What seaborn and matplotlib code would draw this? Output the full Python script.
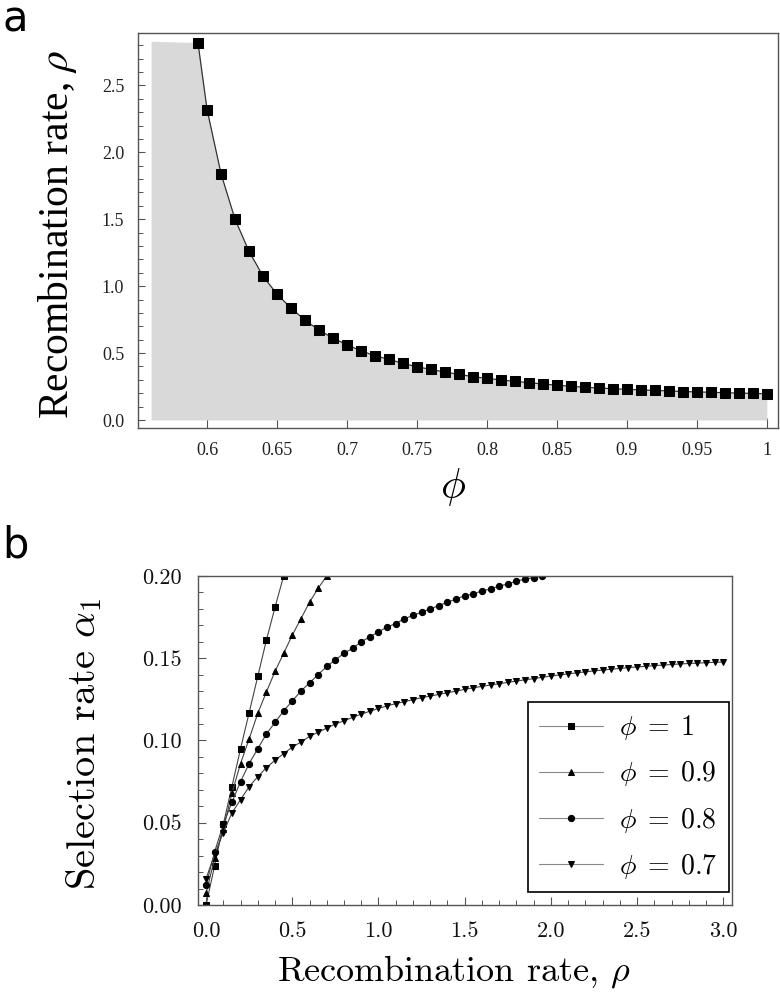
import matplotlib
matplotlib.use('Agg')
import matplotlib.pyplot as plt
import pandas as pd
import seaborn as sns
from matplotlib.ticker import MultipleLocator

# ---- panel a data: threshold recombination rate vs phi ----
phi_a = [0.5935, 0.60, 0.61, 0.62, 0.63, 0.64, 0.65, 0.66, 0.67, 0.68, 0.69,
         0.70, 0.71, 0.72, 0.73, 0.74, 0.75, 0.76, 0.77, 0.78, 0.79,
         0.80, 0.81, 0.82, 0.83, 0.84, 0.85, 0.86, 0.87, 0.88, 0.89,
         0.90, 0.91, 0.92, 0.93, 0.94, 0.95, 0.96, 0.97, 0.98, 0.99, 1.00]
rho_a = [2.82, 2.32, 1.84, 1.50, 1.26, 1.075, 0.94, 0.836, 0.746, 0.672, 0.612,
         0.562, 0.517, 0.480, 0.453, 0.423, 0.398, 0.378, 0.358, 0.341, 0.324,
         0.311, 0.299, 0.289, 0.279, 0.269, 0.260, 0.252, 0.245, 0.239, 0.234,
         0.229, 0.225, 0.221, 0.217, 0.213, 0.210, 0.207, 0.204, 0.201, 0.199, 0.196]
shade_left = 0.56
shade_top = 2.83

# ---- panel b data: selection rate vs recombination rate ----
rho_grid = [0.00, 0.05, 0.10, 0.15, 0.20, 0.25, 0.30, 0.35, 0.40, 0.45,
            0.50, 0.55, 0.60, 0.65, 0.70, 0.75, 0.80, 0.85, 0.90, 0.95,
            1.00, 1.05, 1.10, 1.15, 1.20, 1.25, 1.30, 1.35, 1.40, 1.45,
            1.50, 1.55, 1.60, 1.65, 1.70, 1.75, 1.80, 1.85, 1.90, 1.95,
            2.00, 2.05, 2.10, 2.15, 2.20, 2.25, 2.30, 2.35, 2.40, 2.45,
            2.50, 2.55, 2.60, 2.65, 2.70, 2.75, 2.80, 2.85, 2.90, 2.95, 3.00]
alpha_phi1 = [0.000, 0.024, 0.049, 0.072, 0.095, 0.117, 0.139, 0.161, 0.181, 0.200]
alpha_phi09 = [0.007, 0.0285, 0.046, 0.068, 0.086, 0.101, 0.1165, 0.1295, 0.142,
               0.153, 0.164, 0.174, 0.184, 0.1925, 0.200]
alpha_phi08 = [0.012, 0.0325, 0.049, 0.0624, 0.075, 0.086, 0.095, 0.104, 0.111, 0.118,
               0.124, 0.130, 0.135, 0.140, 0.145, 0.149, 0.153, 0.156, 0.160, 0.163,
               0.166, 0.169, 0.171, 0.174, 0.176, 0.178, 0.180, 0.182, 0.184, 0.186,
               0.188, 0.189, 0.191, 0.192, 0.194, 0.195, 0.197, 0.198, 0.199, 0.200]
alpha_phi07 = [0.016, 0.031, 0.044, 0.056, 0.064, 0.072, 0.078, 0.0835, 0.088, 0.092,
               0.096, 0.099, 0.1025, 0.105, 0.1075, 0.110, 0.112, 0.114, 0.116, 0.1178,
               0.1195, 0.121, 0.1224, 0.1236, 0.1248, 0.126, 0.127, 0.128, 0.129, 0.130,
               0.1311, 0.1320, 0.1329, 0.1337, 0.1345, 0.1353, 0.1361, 0.1369, 0.1376, 0.1384,
               0.1392, 0.1398, 0.1405, 0.1411, 0.1417, 0.1423, 0.1428, 0.1433, 0.1438, 0.1443,
               0.1447, 0.1451, 0.1455, 0.1458, 0.1462, 0.1465, 0.1468, 0.1470, 0.1473, 0.1475,
               0.1477]
series_labels = [r'$\phi\;=\;1$', r'$\phi\;=\;0.9$', r'$\phi\;=\;0.8$', r'$\phi\;=\;0.7$']
series_alpha = [alpha_phi1, alpha_phi09, alpha_phi08, alpha_phi07]
series_markers = ['s', '^', 'o', 'v']
series_msize = [4.5, 4.0, 4.5, 4.0]

sns.set_style('ticks')
plt.rcParams['mathtext.fontset'] = 'cm'
plt.rcParams['text.color'] = 'black'
plt.rcParams['axes.labelcolor'] = 'black'

fig = plt.figure(figsize=(7.8, 9.92), dpi=100)
ax1 = fig.add_axes([0.177, 0.5685, 0.8205, 0.398])
ax2 = fig.add_axes([0.2538, 0.0877, 0.6846, 0.3317])

# ---- panel a ----
df_a = pd.DataFrame({'phi': phi_a, 'rho': rho_a})
ax1.fill_between([shade_left] + phi_a, 0, [shade_top] + rho_a, color='#d9d9d9', lw=0)
sns.lineplot(data=df_a, x='phi', y='rho', ax=ax1, color='#333333', lw=0.9,
             marker='s', markersize=6.5, mfc='black', mec='black')
ax1.set_xlim(0.5507, 1.008)
ax1.set_ylim(-0.06, 2.89)
xt = [0.6, 0.65, 0.7, 0.75, 0.8, 0.85, 0.9, 0.95, 1.0]
ax1.set_xticks(xt, labels=['0.6', '0.65', '0.7', '0.75', '0.8', '0.85', '0.9', '0.95', '1'],
               fontfamily='Liberation Serif')
yt = [0.0, 0.5, 1.0, 1.5, 2.0, 2.5]
ax1.set_yticks(yt, labels=['0.0', '0.5', '1.0', '1.5', '2.0', '2.5'],
               fontfamily='Liberation Serif')
ax1.yaxis.set_minor_locator(MultipleLocator(0.1))
ax1.tick_params(which='major', direction='in', length=7, width=0.8, color='#555555',
                labelsize=13, labelcolor='#222222', pad=10)
ax1.tick_params(which='minor', direction='in', length=3.5, width=0.7, color='#555555')
ax1.tick_params(axis='y', which='major', length=5)
for s in ax1.spines.values():
    s.set_color('#555555')
    s.set_linewidth(1.0)
ax1.set_xlabel(r'$\phi$', fontsize=30)
ax1.set_ylabel(r'Recombination rate, $\rho$', fontsize=30, fontfamily='Liberation Serif',
               math_fontfamily='stix')
ax1.xaxis.set_label_coords(0.492, -0.095)
ax1.yaxis.set_label_coords(-0.092, 0.49)

# ---- panel b ----
for lab, alpha, mk, ms in zip(series_labels, series_alpha, series_markers, series_msize):
    d = pd.DataFrame({'rho': rho_grid[:len(alpha)], 'alpha': alpha})
    sns.lineplot(data=d, x='rho', y='alpha', ax=ax2, color='#444444', lw=0.8,
                 marker=mk, markersize=ms, mfc='black', mec='black', label=lab)
ax2.set_xlim(-0.047, 3.05)
ax2.set_ylim(0, 0.20)
ax2.set_xticks([0, 0.5, 1.0, 1.5, 2.0, 2.5, 3.0],
               labels=['0.0', '0.5', '1.0', '1.5', '2.0', '2.5', '3.0'], fontfamily='cmr10')
ax2.set_yticks([0, 0.05, 0.10, 0.15, 0.20],
               labels=['0.00', '0.05', '0.10', '0.15', '0.20'], fontfamily='cmr10')
ax2.xaxis.set_minor_locator(MultipleLocator(0.1))
ax2.yaxis.set_minor_locator(MultipleLocator(0.01))
ax2.tick_params(which='major', direction='in', length=6, width=0.8, color='#555555',
                labelsize=16, labelcolor='#111111', pad=12)
ax2.tick_params(which='minor', direction='in', length=3.5, width=0.7, color='#555555')
for s in ax2.spines.values():
    s.set_color('#555555')
    s.set_linewidth(1.0)
ax2.set_xlabel(r'Recombination rate, $\rho$', fontsize=26, fontfamily='cmr10')
ax2.set_ylabel(r'Selection rate $\alpha_1$', fontsize=29, fontfamily='cmr10')
ax2.xaxis.set_label_coords(0.48, -0.145)
ax2.yaxis.set_label_coords(-0.176, 0.49)
h, l = ax2.get_legend_handles_labels()
leg = ax2.legend(h, l, loc='lower right', bbox_to_anchor=(0.9944, 0.0395), borderaxespad=0,
                 fontsize=20, handlelength=2.3, handletextpad=0.6, labelspacing=0.62,
                 borderpad=0.4, fancybox=False, framealpha=1, edgecolor='black')
leg.get_frame().set_linewidth(1.2)
for line in leg.get_lines():
    line.set_color('#888888')

fig.text(0.003, 0.968, 'a', fontsize=30, fontfamily='DejaVu Sans', va='baseline')
fig.text(0.003, 0.4385, 'b', fontsize=30, fontfamily='DejaVu Sans', va='baseline')

fig.savefig('out.png', dpi=100)
